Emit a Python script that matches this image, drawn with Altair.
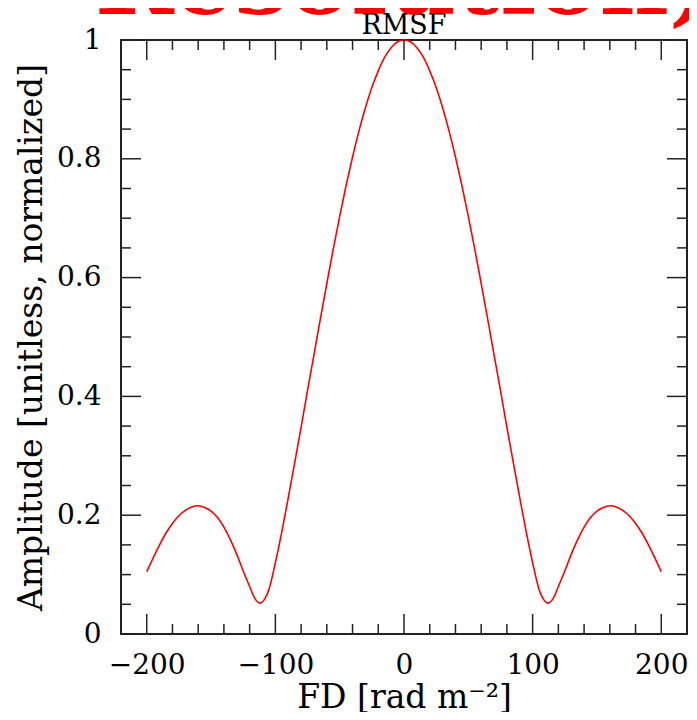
import altair as alt
import pandas as pd

# ---- data ----
fd = [-200, -195, -190, -185, -180, -175, -170, -165, -160, -155, -150, -145, -140, -135, -130, -125, -120,
      -116, -112, -108,
      -105, -100, -95, -90, -85, -80, -75, -70, -65, -60, -55, -50, -45, -40, -35, -30, -25, -20, -15, -10, -5,
      0,
      5, 10, 15, 20, 25, 30, 35, 40, 45, 50, 55, 60, 65, 70, 75, 80, 85, 90, 95, 100, 105,
      108, 112, 116,
      120, 125, 130, 135, 140, 145, 150, 155, 160, 165, 170, 175, 180, 185, 190, 195, 200]
amp = [0.105, 0.128, 0.150, 0.170, 0.186, 0.199, 0.208, 0.214, 0.216, 0.213, 0.207, 0.196, 0.180, 0.159, 0.134, 0.106, 0.080,
       0.060, 0.052, 0.060,
       0.075, 0.120, 0.172, 0.229, 0.288, 0.348, 0.410, 0.470, 0.531, 0.590, 0.648, 0.703, 0.755, 0.803, 0.847, 0.886, 0.920, 0.948, 0.971, 0.987, 0.997,
       1.000,
       0.997, 0.987, 0.971, 0.948, 0.920, 0.886, 0.847, 0.803, 0.755, 0.703, 0.648, 0.590, 0.531, 0.470, 0.410, 0.348, 0.288, 0.229, 0.172, 0.120, 0.075,
       0.060, 0.052, 0.060,
       0.080, 0.106, 0.134, 0.159, 0.180, 0.196, 0.207, 0.213, 0.216, 0.214, 0.208, 0.199, 0.186, 0.170, 0.150, 0.128, 0.105]

x_major = [-200, -100, 0, 100, 200]
x_minor = [-180, -160, -140, -120, -80, -60, -40, -20, 20, 40, 60, 80, 120, 140, 160, 180]
y_major = [0, 0.2, 0.4, 0.6, 0.8, 1.0]
y_minor = [0.05, 0.1, 0.15, 0.25, 0.3, 0.35, 0.45, 0.5, 0.55, 0.65, 0.7, 0.75, 0.85, 0.9, 0.95]
x_range = [-220, 220]

title_text = "RMSF"
x_title = "FD [rad m\u207b\u00b2]"
y_title = "Amplitude [unitless, normalized]"
banner_text = "Resolution)"

W, H = 566, 594
FONT = "DejaVu Serif"
INK = "#222222"

xscale = alt.Scale(domain=x_range, nice=False, zero=False)
yscale = alt.Scale(domain=[0, 1], nice=False, zero=True)

df = pd.DataFrame({"x": fd, "y": amp})

line = alt.Chart(df).mark_line(color="#ff0000", strokeWidth=1.6, interpolate="monotone").encode(
    x=alt.X("x:Q", scale=xscale,
            axis=alt.Axis(values=x_major, title=x_title, ticks=False, tickSize=0, domain=False, grid=False,
                          labelPadding=17, titleY=73, titleX=W / 2, titleBaseline="alphabetic",
                          titleAlign="center", labelFlush=False, labelOverlap=False)),
    y=alt.Y("y:Q", scale=yscale,
            axis=alt.Axis(values=y_major, format="~g", title=y_title, ticks=False, tickSize=0, domain=False,
                          grid=False, labelPadding=20, titleX=-80, titleY=H / 2, titleAngle=270,
                          titleBaseline="alphabetic", titleAlign="center", labelFlush=False,
                          labelOverlap=False)),
)


def xticks(vals, length, top):
    d = pd.DataFrame({"x": vals})
    if top:
        enc = dict(y=alt.value(0), y2=alt.value(length))
    else:
        enc = dict(y=alt.value(H), y2=alt.value(H - length))
    return alt.Chart(d).mark_rule(color=INK, strokeWidth=1.5).encode(
        x=alt.X("x:Q", scale=xscale), **enc)


def yticks(vals, length, right):
    d = pd.DataFrame({"y": vals})
    if right:
        enc = dict(x=alt.value(W), x2=alt.value(W - length))
    else:
        enc = dict(x=alt.value(0), x2=alt.value(length))
    return alt.Chart(d).mark_rule(color=INK, strokeWidth=1.5).encode(
        y=alt.Y("y:Q", scale=yscale), **enc)


ticks = [
    xticks(x_major, 20, False), xticks(x_minor, 10, False),
    xticks(x_major, 20, True), xticks(x_minor, 10, True),
    yticks(y_major, 20, False), yticks(y_minor, 10, False),
    yticks(y_major, 20, True), yticks(y_minor, 10, True),
]

title_mark = alt.Chart(pd.DataFrame({"t": [title_text]})).mark_text(
    font=FONT, fontSize=27, color="black", align="center", baseline="alphabetic"
).encode(x=alt.value(W / 2), y=alt.value(-6), text="t:N")

banner = alt.Chart(pd.DataFrame({"t": [banner_text]})).mark_text(
    font=FONT, fontSize=95, fontWeight="bold", color="#ff0000", align="left", baseline="alphabetic"
).encode(x=alt.value(-26), y=alt.value(-26), text="t:N")

chart = alt.layer(line, *ticks, title_mark, banner).properties(
    width=W, height=H,
    autosize=alt.AutoSizeParams(type="none"),
    padding={"left": 113, "top": 32, "right": 2, "bottom": 78},
    background="white",
).configure_view(
    stroke=INK, strokeWidth=2, fill="white"
).configure_axis(
    labelFont=FONT, labelFontSize=28, labelColor="black",
    titleFont=FONT, titleFontSize=33, titleFontWeight="normal", titleColor="black",
)

chart.save("out.html", embed_options={"renderer": "svg", "actions": False})
